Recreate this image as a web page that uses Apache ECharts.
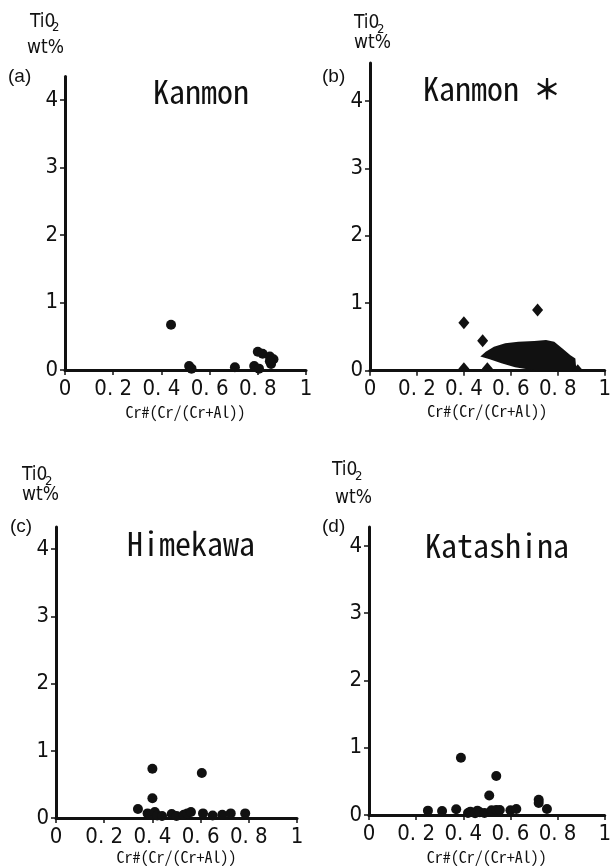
<!DOCTYPE html>
<html>

<head>
    <meta charset="utf-8" />
    <script src="https://cdn.jsdelivr.net/npm/echarts@6/dist/echarts.min.js"></script>
    <style>
        body { margin: 0; background: #fff; }
    </style>
</head>

<body>
    <div id="main" style="width: 614px;height:866px;"></div>
    <script type="text/javascript">
        // data
        const yTicks = [0, 1, 2, 3, 4];

        // (a) Kanmon
        const kanmonX = [0.44, 0.515, 0.525, 0.705, 0.785, 0.805, 0.80, 0.82, 0.85, 0.865, 0.855, 0.85];
        const kanmonY = [0.67, 0.06, 0.02, 0.04, 0.06, 0.02, 0.27, 0.24, 0.20, 0.16, 0.09, 0.13];

        // (b) Kanmon * : diamonds + filled field
        const starX = [0.40, 0.714, 0.48, 0.40, 0.50, 0.885];
        const starY = [0.71, 0.90, 0.445, 0.03, 0.03, 0.0];
        const fieldX = [0.47, 0.493, 0.528, 0.576, 0.632, 0.70, 0.75, 0.785, 0.82, 0.854, 0.875, 0.878, 0.89, 0.854, 0.73, 0.67, 0.618, 0.56, 0.51];
        const fieldY = [0.21, 0.28, 0.355, 0.405, 0.43, 0.44, 0.455, 0.43, 0.33, 0.23, 0.18, 0.06, 0.0, 0.0, 0.0, 0.02, 0.05, 0.11, 0.17];

        // (c) Himekawa
        const himeX = [0.40, 0.605, 0.40, 0.34, 0.38, 0.39, 0.41, 0.42, 0.44, 0.48, 0.50, 0.53, 0.545, 0.56, 0.61, 0.65, 0.69, 0.725, 0.785];
        const himeY = [0.735, 0.67, 0.295, 0.135, 0.07, 0.05, 0.09, 0.04, 0.03, 0.06, 0.03, 0.05, 0.07, 0.09, 0.07, 0.04, 0.05, 0.07, 0.07];

        // (d) Katashina
        const kataX = [0.39, 0.54, 0.51, 0.72, 0.72, 0.755, 0.25, 0.31, 0.37, 0.42, 0.43, 0.45, 0.46, 0.47, 0.49, 0.52, 0.54, 0.555, 0.60, 0.625];
        const kataY = [0.85, 0.58, 0.29, 0.225, 0.18, 0.09, 0.065, 0.06, 0.085, 0.03, 0.05, 0.025, 0.065, 0.04, 0.03, 0.07, 0.075, 0.075, 0.07, 0.09];

        const ink = '#111';
        const narrow = '"Liberation Sans Narrow", "DejaVu Sans Condensed", sans-serif';
        const mono = '"Noto Sans Mono CJK JP", "Noto Sans CJK JP", monospace';

        const pairs = (xs, ys) => xs.map((x, i) => [x, ys[i]]);

        function xAxis(idx, gap) {
            return {
                type: 'value', gridIndex: idx, min: 0, max: 1, interval: 0.2,
                name: 'Cr#(Cr/(Cr+Al))', nameLocation: 'middle', nameGap: gap,
                nameTextStyle: { color: ink, fontFamily: mono, fontSize: 16 },
                axisLine: { onZero: false, lineStyle: { color: ink, width: 3 } },
                axisTick: { length: 5, lineStyle: { color: ink, width: 1.5 } },
                axisLabel: {
                    color: ink, fontFamily: narrow, fontSize: 22, margin: 8,
                    formatter: v => (v === 0 || v === 1) ? String(v) : v.toFixed(1).replace('.', '. ')
                },
                splitLine: { show: false }
            };
        }

        function yAxis(idx, max) {
            return {
                type: 'value', gridIndex: idx, min: 0, max: max,
                axisLine: { show: true, onZero: false, lineStyle: { color: ink, width: 3 } },
                axisTick: { show: true, length: 5, customValues: yTicks, lineStyle: { color: ink, width: 1.5 } },
                axisLabel: { color: ink, fontFamily: narrow, fontSize: 22, margin: 7, customValues: yTicks },
                splitLine: { show: false }
            };
        }

        function dots(idx, xs, ys) {
            return {
                type: 'scatter', xAxisIndex: idx, yAxisIndex: idx,
                data: pairs(xs, ys), symbol: 'circle', symbolSize: 10,
                itemStyle: { color: ink, opacity: 1 }
            };
        }

        function txt(x, y, text, size, family, align) {
            return {
                type: 'text', x: x, y: y,
                style: {
                    text: text, fill: ink, fontSize: size, fontFamily: family,
                    align: align || 'left', verticalAlign: 'middle'
                }
            };
        }

        const myChart = echarts.init(document.getElementById('main'), null, { renderer: 'canvas' });

        const option = {
            backgroundColor: '#fff',
            animation: false,
            grid: [
                { left: 65, top: 76.4, width: 241, height: 293.6 },
                { left: 370, top: 63, width: 240, height: 307.7 },
                { left: 56, top: 527, width: 241, height: 292 },
                { left: 369, top: 527, width: 240, height: 289 }
            ],
            xAxis: [xAxis(0, 34), xAxis(1, 32), xAxis(2, 30), xAxis(3, 34)],
            yAxis: [yAxis(0, 4.35), yAxis(1, 4.56), yAxis(2, 4.33), yAxis(3, 4.28)],
            series: [
                dots(0, kanmonX, kanmonY),
                {
                    // filled field of Kanmon *
                    type: 'custom', xAxisIndex: 1, yAxisIndex: 1, clip: true,
                    data: [[0, 0]],
                    renderItem: function (params, api) {
                        return {
                            type: 'polygon',
                            shape: { points: fieldX.map((x, i) => api.coord([x, fieldY[i]])) },
                            style: { fill: ink }
                        };
                    }
                },
                {
                    // diamonds, clipped by the axis like the original
                    type: 'custom', xAxisIndex: 1, yAxisIndex: 1, clip: true,
                    data: pairs(starX, starY),
                    renderItem: function (params, api) {
                        const p = api.coord([api.value(0), api.value(1)]);
                        return {
                            type: 'polygon',
                            shape: { points: [[p[0], p[1] - 6.5], [p[0] + 5.5, p[1]], [p[0], p[1] + 6.5], [p[0] - 5.5, p[1]]] },
                            style: { fill: ink }
                        };
                    }
                },
                dots(2, himeX, himeY),
                dots(3, kataX, kataY)
            ],
            graphic: [
                // (a)
                txt(30, 22, 'Ti0', 19, narrow), txt(52, 28, '2', 13, narrow),
                txt(27, 48, 'wt%', 19, narrow),
                txt(8, 77, '(a)', 19, 'Liberation Sans'),
                txt(201, 92, 'Kanmon', 32, mono, 'center'),
                // (b)
                txt(354, 23, 'Ti0', 19, narrow), txt(377, 30, '2', 13, narrow),
                txt(354, 43, 'wt%', 19, narrow),
                txt(322, 77, '(b)', 19, 'Liberation Sans'),
                {
                    type: 'text', x: 492, y: 89,
                    style: {
                        text: '{a|Kanmon}{s| }{b|＊}', fill: ink, align: 'center', verticalAlign: 'middle',
                        rich: {
                            a: { fontSize: 32, fontFamily: mono, fill: ink },
                            s: { fontSize: 32, fontFamily: mono, width: 14 },
                            b: { fontSize: 28, fontFamily: '"Noto Sans CJK JP"', fill: ink, fontWeight: 'bold' }
                        }
                    }
                },
                // (c)
                txt(22, 475, 'Ti0', 19, narrow), txt(45, 482, '2', 13, narrow),
                txt(22, 495, 'wt%', 19, narrow),
                txt(10, 527, '(c)', 19, 'Liberation Sans'),
                txt(191, 544, 'Himekawa', 32, mono, 'center'),
                // (d)
                txt(332, 470, 'Ti0', 19, narrow), txt(355, 477, '2', 13, narrow),
                txt(335, 498, 'wt%', 19, narrow),
                txt(322, 527, '(d)', 19, 'Liberation Sans'),
                txt(497, 546, 'Katashina', 32, mono, 'center')
            ]
        };

        myChart.setOption(option);

        window.addEventListener('resize', myChart.resize);
    </script>
</body>

</html>
